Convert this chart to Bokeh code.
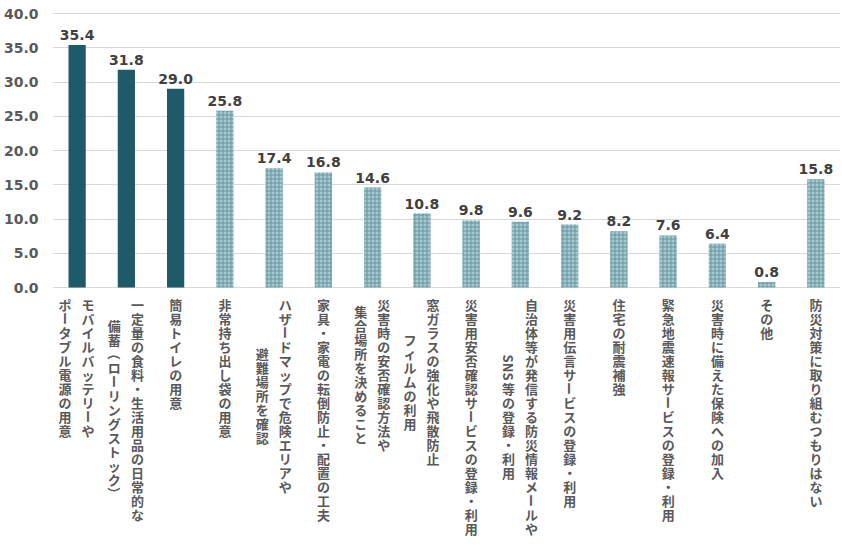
import math
from bokeh.plotting import figure
from bokeh.models import ColumnDataSource, FactorRange, Range1d, FixedTicker, PrintfTickFormatter
from bokeh.core.properties import value
from bokeh.embed import file_html
from bokeh.resources import INLINE

label_lines = [
    ["モバイルバッテリーや", "ポータブル電源の用意"],
    ["一定量の食料・生活用品の日常的な", "備蓄（ローリングストック）"],
    ["簡易トイレの用意"],
    ["非常持ち出し袋の用意"],
    ["ハザードマップで危険エリアや", "避難場所を確認"],
    ["家具・家電の転倒防止・配置の工夫"],
    ["災害時の安否確認方法や", "集合場所を決めること"],
    ["窓ガラスの強化や飛散防止", "フィルムの利用"],
    ["災害用安否確認サービスの登録・利用"],
    ["自治体等が発信する防災情報メールや", "SNS等の登録・利用"],
    ["災害用伝言サービスの登録・利用"],
    ["住宅の耐震補強"],
    ["緊急地震速報サービスの登録・利用"],
    ["災害時に備えた保険への加入"],
    ["その他"],
    ["防災対策に取り組むつもりはない"],
]
values = [35.4, 31.8, 29.0, 25.8, 17.4, 16.8, 14.6, 10.8, 9.8, 9.6, 9.2, 8.2, 7.6, 6.4, 0.8, 15.8]
highlighted_count = 3
y_ticks = [0, 5, 10, 15, 20, 25, 30, 35, 40]

categories = ["".join(l) for l in label_lines]

W, H = 842, 555
p = figure(width=W, height=H, x_range=FactorRange(factors=categories),
           y_range=Range1d(-39.12, 41.9), output_backend="svg",
           toolbar_location=None, min_border_left=50, min_border_right=2,
           min_border_top=0, min_border_bottom=0)
p.outline_line_color = None
p.background_fill_color = "white"
p.xaxis.visible = False
p.xgrid.visible = False
p.yaxis.ticker = FixedTicker(ticks=y_ticks)
p.yaxis.formatter = PrintfTickFormatter(format="%.1f")
p.yaxis.axis_line_color = None
p.yaxis.major_tick_line_color = None
p.yaxis.minor_tick_line_color = None
p.yaxis.major_tick_out = 0
p.yaxis.major_tick_in = 0
p.yaxis.minor_tick_out = 0
p.yaxis.major_label_standoff = 14
p.yaxis.major_label_text_font = "DejaVu Sans"
p.yaxis.major_label_text_font_style = "bold"
p.yaxis.major_label_text_font_size = "14px"
p.yaxis.major_label_text_color = "#595959"
p.ygrid.grid_line_color = "#D9D9D9"
p.ygrid.grid_line_width = 1

dark = ColumnDataSource(dict(x=categories[:highlighted_count], top=values[:highlighted_count]))
light = ColumnDataSource(dict(x=categories[highlighted_count:], top=values[highlighted_count:]))
p.vbar(x="x", top="top", bottom=0, width=0.35, source=dark, fill_color="#1F5A68", line_color=None)
p.vbar(x="x", top="top", bottom=0, width=0.35, source=light, fill_color="#A7C8CF",
       line_color=None, hatch_pattern="+", hatch_color="#6596A1", hatch_scale=4, hatch_weight=1)

vals = ColumnDataSource(dict(x=categories, y=values, t=["%.1f" % v for v in values]))
p.text(x="x", y="y", text="t", source=vals, text_align="center", text_baseline="alphabetic",
       y_offset=-10, text_font=value("DejaVu Sans"), text_font_style="bold",
       text_font_size="14px", text_color="#404040")

# vertical (tategaki) category labels: one token per character, Latin runs rotated
STEP = 14.0
LATIN_STEP = 9.3
TOP = 10.0
ROTATED = set("ー（）")


def tokens(s):
    out = []
    i = 0
    while i < len(s):
        if s[i].isascii():
            j = i
            while j < len(s) and s[j].isascii():
                j += 1
            out.append((s[i:j], LATIN_STEP * (j - i), -math.pi / 2))
            i = j
        else:
            ang = -math.pi / 2 if s[i] in ROTATED else 0.0
            out.append((s[i], STEP, ang))
            i += 1
    return out


lx, lt, lxo, lyo, la = [], [], [], [], []
for cat, lines in zip(categories, label_lines):
    toks = [tokens(s) for s in lines]
    heights = [sum(t[1] for t in tk) for tk in toks]
    Hmax = max(heights)
    n = len(lines)
    for i, tk in enumerate(toks):
        xo = 0 if n == 1 else (11 if i == 0 else -12)
        pos = TOP + (Hmax - heights[i]) / 2
        for text, h, ang in tk:
            lx.append(cat)
            lt.append(text)
            lxo.append(xo)
            lyo.append(pos + h / 2)
            la.append(ang)
            pos += h
labs = ColumnDataSource(dict(x=lx, y=[0] * len(lx), t=lt, xo=lxo, yo=lyo, a=la))
p.text(x="x", y="y", text="t", angle="a", source=labs, x_offset="xo", y_offset="yo",
       text_align="center", text_baseline="middle",
       text_font=value("Noto Sans CJK JP"), text_font_style="bold",
       text_font_size="13px", text_color="#595959")

open("out.html", "w").write(file_html(p, INLINE))
